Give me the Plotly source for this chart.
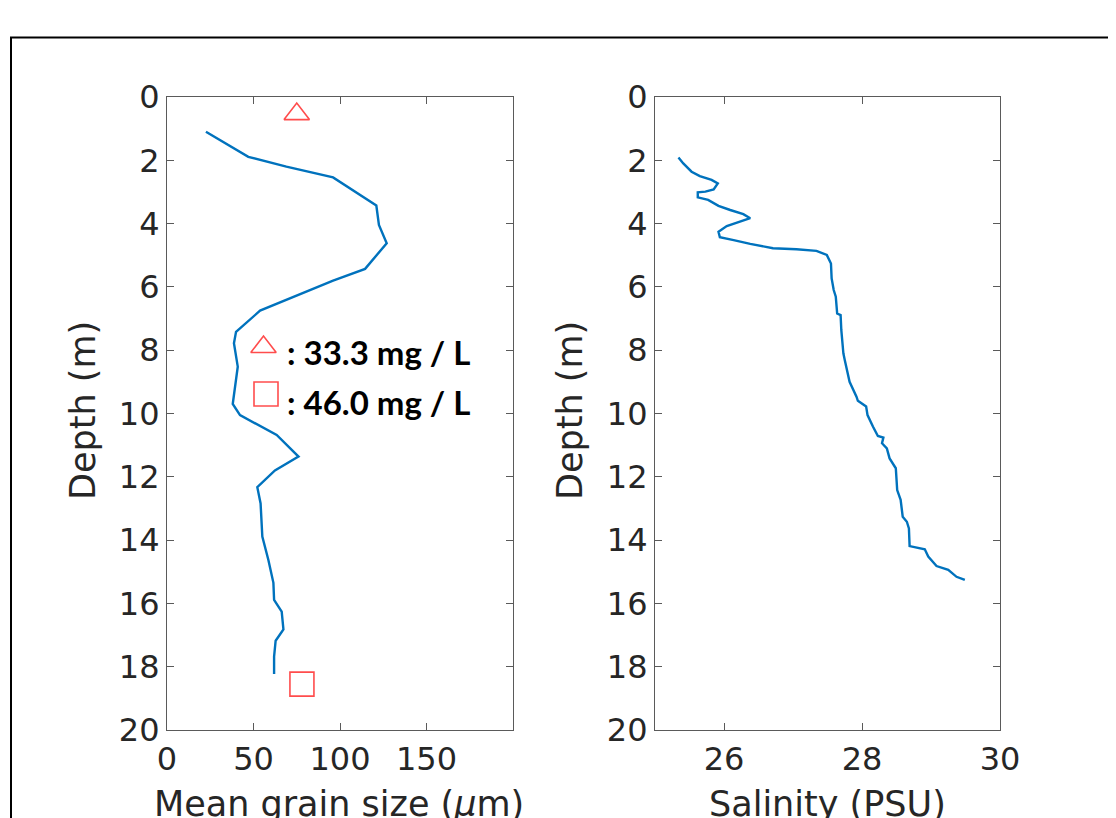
import plotly.graph_objects as go

# ---- data ----
grain_size_um = [22.5, 47, 69, 96, 121, 122.5, 127, 114.5, 96, 82.7, 53.8, 39.9, 38.7, 40.9, 38,
                 42.2, 63.4, 76, 62.4, 52.2, 54.1, 55.1, 58.6, 61.5, 61.9, 66.3, 67.3, 62.8, 61.9, 61.9]
grain_depth_m = [1.10, 1.89, 2.2, 2.54, 3.43, 4.04, 4.62, 5.43, 5.8, 6.1, 6.75, 7.42, 7.78, 8.52, 9.70,
                 10.05, 10.68, 11.36, 11.8, 12.33, 12.84, 13.89, 14.63, 15.35, 15.89, 16.26, 16.82, 17.18, 17.68, 18.23]

salinity_psu = [25.34, 25.41, 25.53, 25.65, 25.82, 25.91, 25.85, 25.73, 25.62, 25.62, 25.77, 25.92, 26.09,
                26.28, 26.38, 26.23, 26.04, 25.92, 25.94, 26.14, 26.38, 26.71, 27.05, 27.34, 27.49, 27.55,
                27.56, 27.59, 27.62, 27.64, 27.69, 27.70, 27.73, 27.75, 27.79, 27.82, 27.92, 27.94, 28.06,
                28.08, 28.16, 28.23, 28.31, 28.29, 28.36, 28.40, 28.49, 28.51, 28.56, 28.59, 28.65, 28.68,
                28.69, 28.91, 28.96, 29.08, 29.25, 29.37, 29.49]
salinity_depth_m = [1.91, 2.10, 2.36, 2.50, 2.62, 2.73, 2.92, 2.99, 3.01, 3.17, 3.25, 3.44, 3.57,
                    3.70, 3.83, 3.94, 4.08, 4.26, 4.43, 4.52, 4.64, 4.78, 4.81, 4.86, 4.99, 5.26,
                    5.73, 6.10, 6.31, 6.84, 6.89, 7.36, 8.10, 8.31, 8.73, 9.0, 9.47, 9.60, 9.78,
                    10.05, 10.42, 10.71, 10.76, 10.94, 11.10, 11.42, 11.73, 12.42, 12.73, 13.26, 13.42, 13.63,
                    14.19, 14.29, 14.52, 14.82, 14.94, 15.16, 15.26]

sample_labels = [": 33.3 mg / L", ": 46.0 mg / L"]
sample_symbols = ["triangle-up-open", "square-open"]
sample_grain = [75, 78]
sample_depth = [0.54, 18.55]

x1_ticks = [0, 50, 100, 150]
x2_ticks = [26, 28, 30]
y_ticks = list(range(0, 21, 2))

W, H = 1116, 818
OFF = 8  # page body margin in the browser
LINE_BLUE = "#0072BD"
TXT = "#262626"
AX = "#5a5a5a"
FONT = "DejaVu Sans"


def px(x):
    return (x - OFF) / W


def py(y):
    return 1 - (y - OFF) / H


fig = go.Figure()

fig.add_trace(go.Scatter(x=grain_size_um, y=grain_depth_m, mode="lines",
                         line=dict(color=LINE_BLUE, width=2.4), xaxis="x", yaxis="y",
                         showlegend=False, hoverinfo="skip"))
fig.add_trace(go.Scatter(x=sample_grain, y=sample_depth, mode="markers",
                         marker=dict(symbol=sample_symbols, size=[22, 24], color="red",
                                     line=dict(color="red", width=1.6)),
                         xaxis="x", yaxis="y", showlegend=False, hoverinfo="skip"))
fig.add_trace(go.Scatter(x=salinity_psu, y=salinity_depth_m, mode="lines",
                         line=dict(color=LINE_BLUE, width=2.4), xaxis="x2", yaxis="y2",
                         showlegend=False, hoverinfo="skip"))

# legend-like key symbols (placed in an invisible full-page axis)
key_y_px = [347, 394]
key_x_px = [263.5, 266]
fig.add_trace(go.Scatter(x=[px(v) for v in key_x_px], y=[py(v) for v in key_y_px],
                         mode="markers",
                         marker=dict(symbol=sample_symbols, size=[22, 24], color="red",
                                     line=dict(color="red", width=1.6)),
                         xaxis="x3", yaxis="y3", showlegend=False, hoverinfo="skip", cliponaxis=False))

common_axis = dict(showline=True, linecolor=AX, linewidth=1.2, mirror="ticks", ticks="inside",
                   ticklen=7, tickcolor=AX, tickwidth=1.2, showgrid=False, zeroline=False,
                   automargin=False,
                   tickfont=dict(family=FONT, size=32, color=TXT))

ydom = [py(730), py(97)]

fig.update_layout(
    width=W, height=H, margin=dict(l=0, r=0, t=0, b=0, pad=0),
    paper_bgcolor="white", plot_bgcolor="rgba(0,0,0,0)",
    xaxis=dict(domain=[px(167), px(513)], range=[0, 200], tickvals=x1_ticks, anchor="y", **common_axis),
    yaxis=dict(domain=ydom, range=[20, 0], tickvals=y_ticks, anchor="x", ticksuffix="\u2009",
               **common_axis),
    xaxis2=dict(domain=[px(655), px(1000)], range=[25, 30], tickvals=x2_ticks, anchor="y2", **common_axis),
    yaxis2=dict(domain=ydom, range=[20, 0], tickvals=y_ticks, anchor="x2", ticksuffix="\u2009",
                **common_axis),
    xaxis3=dict(domain=[0, 1], range=[0, 1], visible=False, anchor="y3", automargin=False),
    yaxis3=dict(domain=[0, 1], range=[0, 1], visible=False, anchor="x3", automargin=False),
)

TITLE_SIZE = 35
annotations = [
    dict(text="Mean grain size (<i>μ</i>m)", x=px(339), y=py(804), xref="paper", yref="paper",
         xanchor="center", yanchor="middle", showarrow=False,
         font=dict(family=FONT, size=TITLE_SIZE, color=TXT)),
    dict(text="Salinity (PSU)", x=px(827), y=py(804), xref="paper", yref="paper",
         xanchor="center", yanchor="middle", showarrow=False,
         font=dict(family=FONT, size=TITLE_SIZE, color=TXT)),
    dict(text="Depth (m)", x=px(83), y=py(411), xref="paper", yref="paper", textangle=-90,
         xanchor="center", yanchor="middle", showarrow=False,
         font=dict(family=FONT, size=TITLE_SIZE, color=TXT)),
    dict(text="Depth (m)", x=px(570), y=py(411), xref="paper", yref="paper", textangle=-90,
         xanchor="center", yanchor="middle", showarrow=False,
         font=dict(family=FONT, size=TITLE_SIZE, color=TXT)),
]
text_y_px = [352, 402]
for lab, ty in zip(sample_labels, text_y_px):
    annotations.append(dict(text="<b>" + lab + "</b>", x=px(285), y=py(ty), xref="paper", yref="paper",
                            xanchor="left", yanchor="middle", showarrow=False,
                            font=dict(family="Lato", size=33, color="black")))
fig.update_layout(annotations=annotations)

# outer frame
fig.add_shape(type="rect", xref="paper", yref="paper", x0=px(11), y0=-0.2, x1=1.2, y1=py(37.5),
              line=dict(color="black", width=2), fillcolor="rgba(0,0,0,0)", layer="above")

fig.write_html("out.html")
